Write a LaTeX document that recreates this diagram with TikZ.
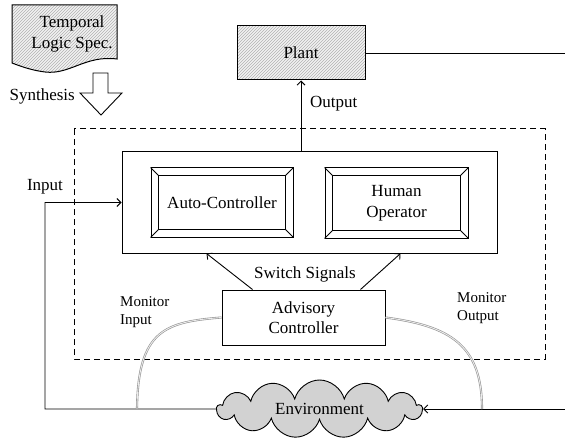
\documentclass[tikz,border=0pt]{standalone}
\usepackage{fontspec}
\setmainfont{Liberation Serif}
\usetikzlibrary{arrows.meta,patterns,shapes.symbols,calc}
\begin{document}
\begin{tikzpicture}[x=1pt,y=-1pt,
  font=\fontsize{17}{20.5}\selectfont,
  every node/.style={inner sep=0pt},
  arr/.style={-{Straight Barb[length=4pt,width=8pt]}, line width=0.9pt},
  ln/.style={line width=0.9pt},
  box/.style={draw, line width=1pt, rectangle, align=center},
  hatch/.style={line width=1pt, preaction={fill=gray!10}, pattern=north east lines, pattern color=gray!60},
  mon/.style={draw=gray!85, double=gray!15, double distance=0.9pt, line width=0.6pt},
  small/.style={font=\fontsize{15}{18}\selectfont, align=left}
]
\useasboundingbox (0,0) rectangle (565,441);

% spec document
\draw[hatch] (12,5) -- (117,5) -- (117,59) .. controls (85,55) and (70,75) .. (45,72) .. controls (30,70) and (20,66) .. (12,63) -- cycle;
\node[align=center] (spec) at (72,34) {Temporal\\Logic Spec.};

% synthesis arrow
\draw[line width=0.9pt, fill=white] (93,73) -- (108,73) -- (108,93) -- (122,93) -- (101,115) -- (80,93) -- (93,93) -- cycle;
\node[anchor=east] (synth) at (75,96) {Synthesis};

% plant
\node[box, hatch, minimum width=128, minimum height=54] (plant) at (301,53) {Plant};

% dashed region
\draw[line width=1pt, dash pattern=on 6pt off 4pt] (74,129) rectangle (545,359);

% controller block
\node[box, minimum width=375, minimum height=101] (ctrl) at (309.5,202.5) {};
\node[box, minimum width=142, minimum height=69] (auto) at (222,202.5) {Auto-Controller};
\node[box, minimum width=143, minimum height=70] (human) at (396.5,203) {Human\\Operator};
\foreach \n in {auto,human}{
  \draw[line width=1pt] ([shift={(8,8)}]\n.north west) rectangle ([shift={(-8,-8)}]\n.south east);
  \draw[line width=0.9pt] (\n.north west) -- ([shift={(8,8)}]\n.north west);
  \draw[line width=0.9pt] (\n.north east) -- ([shift={(-8,8)}]\n.north east);
  \draw[line width=0.9pt] (\n.south west) -- ([shift={(8,-8)}]\n.south west);
  \draw[line width=0.9pt] (\n.south east) -- ([shift={(-8,-8)}]\n.south east);
}

% advisory controller
\node[box, minimum width=163, minimum height=55] (adv) at (303.5,317.5) {Advisory\\Controller};

% environment
\node[cloud, cloud puffs=13, cloud ignores aspect, draw, line width=0.9pt, fill=gray!35,
      minimum width=205, minimum height=58] (env) at (319.5,409) {Environment};

% coordinates for free ends
\coordinate (plR) at (565,53);
\coordinate (inL) at (45,409);
\coordinate (outR) at (565,409);
\coordinate (monI) at (137,409);
\coordinate (monO) at (482,409);

% connectors
\draw[ln] (plant.east) -- (plR);
\draw[arr] (ctrl.north -| plant.south) -- (plant.south);
\node[anchor=west] (outlbl) at (310,104) {Output};

\draw[arr] (env.west) -- (inL) |- (ctrl.west);
\node (inlbl) at (45,187) {Input};

\draw[arr] (outR) -- (env.east);

\draw[arr] ([xshift=31pt]adv.north west) -- ([xshift=85pt]ctrl.south west);
\draw[arr] ([xshift=-25pt]adv.north east) -- ([xshift=-97pt]ctrl.south east);
\node (sw) at (305,274) {Switch Signals};

% monitor curves
\draw[mon] (adv.west) .. controls (165,322) and (138,330) .. (monI);
\draw[mon] (adv.east) .. controls (450,326) and (482,345) .. (monO);
\node[small, anchor=north west] (mi) at (120,296) {Monitor\\Input};
\node[small, anchor=north west] (mo) at (457,292) {Monitor\\Output};
\end{tikzpicture}
\end{document}
